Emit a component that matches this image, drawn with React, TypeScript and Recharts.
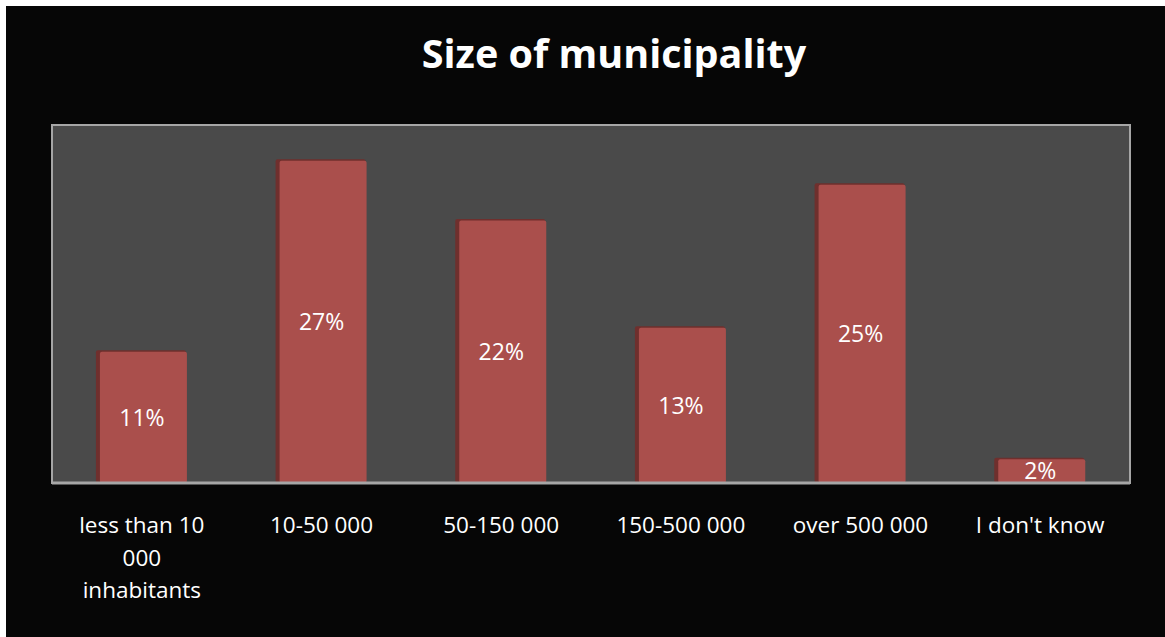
import React from 'react';
import { BarChart, Bar, XAxis, YAxis, LabelList, ReferenceArea } from 'recharts';

const categories = ['less than 10 000 inhabitants', '10-50 000', '50-150 000', '150-500 000', 'over 500 000', "I don't know"];
const shares = [11, 27, 22, 13, 25, 2];

const data = categories.map((name, i) => ({ name, value: shares[i] }));

const FONT = '"Open Sans", sans-serif';

const ShadowBar = (props: any) => {
    const { x, y, width, height } = props;
    if (!height || height <= 0) return null;
    return (
        <g>
            <rect x={x - 1} y={y - 1.5} width={width} height={height + 1.5} fill="#6f2f2d" rx={2} />
            <rect x={x + 3} y={y} width={width - 3} height={height} fill="#aa4f4c" rx={2} />
        </g>
    );
};

const CategoryTick = (props: any) => {
    const { x, y, payload } = props;
    const words = String(payload.value).split(' ');
    const lines: string[] = [];
    let cur = '';
    words.forEach((w) => {
        const next = cur ? cur + ' ' + w : w;
        if (next.length > 13 && cur) {
            lines.push(cur);
            cur = w;
        } else {
            cur = next;
        }
    });
    if (cur) lines.push(cur);
    return (
        <text x={x} y={y + 42} textAnchor="middle" fill="#ffffff" fontSize={22.5} fontFamily={FONT}>
            {lines.map((l, i) => (
                <tspan key={i} x={x} dy={i === 0 ? 0 : 32.5}>{l}</tspan>
            ))}
        </text>
    );
};

const App = () => {
    return (
        <div style={{ position: 'absolute', left: 6, top: 6, width: 1159, height: 631, background: '#060606' }}>
            <div style={{ position: 'absolute', left: 0, top: 20, width: 1216, textAlign: 'center', color: '#ffffff', fontFamily: FONT, fontWeight: 700, fontSize: 39.5 }}>
                Size of municipality
            </div>
            <BarChart
                width={1159}
                height={631}
                data={data}
                margin={{ top: 119, right: 35, bottom: 14, left: 46 }}
                barCategoryGap="25%"
            >
                <ReferenceArea y1={0} y2={30} fill="#4a4a4a" fillOpacity={1} stroke="#a6a6a6" strokeWidth={2} ifOverflow="visible" />
                <XAxis
                    dataKey="name"
                    height={140}
                    axisLine={{ stroke: '#a6a6a6', strokeWidth: 3 }}
                    tickLine={false}
                    interval={0}
                    tick={<CategoryTick />}
                />
                <YAxis hide domain={[0, 30]} width={0} />
                <Bar dataKey="value" isAnimationActive={false} shape={<ShadowBar />}>
                    <LabelList
                        dataKey="value"
                        position="center"
                        formatter={(v: any) => `${v}%`}
                        fill="#ffffff"
                        fontSize={23}
                        fontFamily={FONT}
                    />
                </Bar>
            </BarChart>
        </div>
    );
};

export default App;
